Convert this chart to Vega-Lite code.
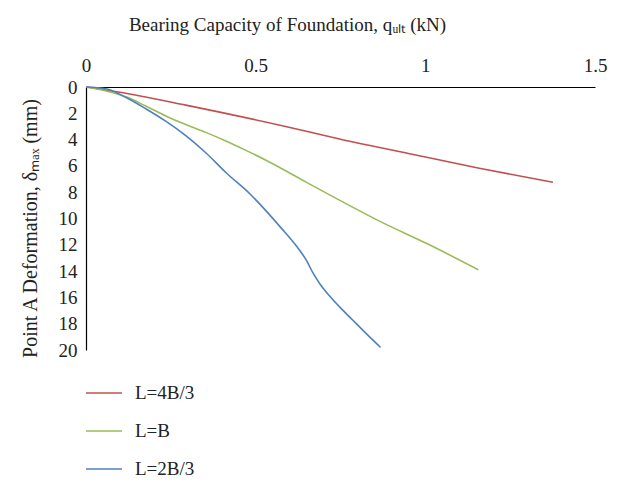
{
  "$schema": "https://vega.github.io/schema/vega-lite/v6.json",
  "autosize": {"type": "none"},
  "padding": {"left": 86, "top": 87, "right": 24, "bottom": 131},
  "width": 509,
  "height": 263,
  "background": "white",
  "config": {
    "view": {"stroke": null},
    "font": "Liberation Serif"
  },
  "data": {
    "values": [
      {"s": "L=4B/3", "q": 0, "d": 0},
      {"s": "L=4B/3", "q": 0.1, "d": 0.4},
      {"s": "L=4B/3", "q": 0.294, "d": 1.38},
      {"s": "L=4B/3", "q": 0.588, "d": 3.0},
      {"s": "L=4B/3", "q": 0.747, "d": 3.95},
      {"s": "L=4B/3", "q": 0.95, "d": 5.05},
      {"s": "L=4B/3", "q": 1.159, "d": 6.18},
      {"s": "L=4B/3", "q": 1.376, "d": 7.25},
      {"s": "L=B", "q": 0, "d": 0},
      {"s": "L=B", "q": 0.059, "d": 0.3},
      {"s": "L=B", "q": 0.118, "d": 0.75},
      {"s": "L=B", "q": 0.176, "d": 1.45},
      {"s": "L=B", "q": 0.235, "d": 2.2},
      {"s": "L=B", "q": 0.294, "d": 2.85},
      {"s": "L=B", "q": 0.353, "d": 3.45},
      {"s": "L=B", "q": 0.412, "d": 4.1},
      {"s": "L=B", "q": 0.47, "d": 4.8},
      {"s": "L=B", "q": 0.529, "d": 5.55},
      {"s": "L=B", "q": 0.58, "d": 6.25},
      {"s": "L=B", "q": 0.65, "d": 7.25},
      {"s": "L=B", "q": 0.718, "d": 8.2},
      {"s": "L=B", "q": 0.865, "d": 10.2},
      {"s": "L=B", "q": 1.012, "d": 12.0},
      {"s": "L=B", "q": 1.156, "d": 13.9},
      {"s": "L=2B/3", "q": 0, "d": 0},
      {"s": "L=2B/3", "q": 0.059, "d": 0.13},
      {"s": "L=2B/3", "q": 0.118, "d": 0.8},
      {"s": "L=2B/3", "q": 0.176, "d": 1.65},
      {"s": "L=2B/3", "q": 0.235, "d": 2.6},
      {"s": "L=2B/3", "q": 0.294, "d": 3.7},
      {"s": "L=2B/3", "q": 0.353, "d": 5.0},
      {"s": "L=2B/3", "q": 0.412, "d": 6.5},
      {"s": "L=2B/3", "q": 0.482, "d": 8.1},
      {"s": "L=2B/3", "q": 0.53, "d": 9.4},
      {"s": "L=2B/3", "q": 0.571, "d": 10.6},
      {"s": "L=2B/3", "q": 0.629, "d": 12.4},
      {"s": "L=2B/3", "q": 0.65, "d": 13.2},
      {"s": "L=2B/3", "q": 0.668, "d": 14.1},
      {"s": "L=2B/3", "q": 0.69, "d": 15.0},
      {"s": "L=2B/3", "q": 0.718, "d": 15.9},
      {"s": "L=2B/3", "q": 0.75, "d": 16.8},
      {"s": "L=2B/3", "q": 0.785, "d": 17.7},
      {"s": "L=2B/3", "q": 0.82, "d": 18.6},
      {"s": "L=2B/3", "q": 0.868, "d": 19.8}
    ]
  },
  "mark": {"type": "line", "strokeWidth": 1.6, "interpolate": "monotone"},
  "encoding": {
    "x": {
      "field": "q", "type": "quantitative",
      "scale": {"domain": [0, 1.5], "nice": false},
      "axis": {
        "orient": "top", "values": [0, 0.5, 1, 1.5], "format": "~g", "grid": false, "ticks": false,
        "domainColor": "#000000", "domainWidth": 1.2,
        "labelFont": "Liberation Serif", "labelFontSize": 19, "labelColor": "#222222",
        "labelPadding": 12, "labelFlush": false,
        "title": "Bearing Capacity of Foundation, qᵤₗₜ (kN)",
        "titleFont": "Liberation Serif", "titleFontSize": 19, "titleFontWeight": "normal",
        "titleColor": "#222222", "titlePadding": 22, "titleX": 201
      }
    },
    "y": {
      "field": "d", "type": "quantitative",
      "scale": {"domain": [0, 20], "reverse": true, "nice": false},
      "axis": {
        "values": [0, 2, 4, 6, 8, 10, 12, 14, 16, 18, 20], "grid": false, "ticks": false,
        "domainColor": "#000000", "domainWidth": 1.2,
        "labelFont": "Liberation Serif", "labelFontSize": 19, "labelColor": "#222222",
        "labelPadding": 9, "labelFlush": false,
        "title": "Point A Deformation, δₘₐₓ (mm)",
        "titleFont": "Liberation Serif", "titleFontSize": 20, "titleFontWeight": "normal",
        "titleColor": "#222222", "titlePadding": 18, "titleY": 141
      }
    },
    "color": {
      "field": "s", "type": "nominal",
      "scale": {"domain": ["L=4B/3", "L=B", "L=2B/3"], "range": ["#C0504D", "#9BBB59", "#4F81BD"]},
      "legend": {
        "orient": "none", "legendX": -1, "legendY": 287, "direction": "vertical",
        "title": null, "symbolType": "stroke", "symbolSize": 1300, "symbolStrokeWidth": 1.6,
        "labelFont": "Liberation Serif", "labelFontSize": 19, "labelColor": "#222222",
        "labelOffset": 12, "rowPadding": 9
      }
    }
  }
}
